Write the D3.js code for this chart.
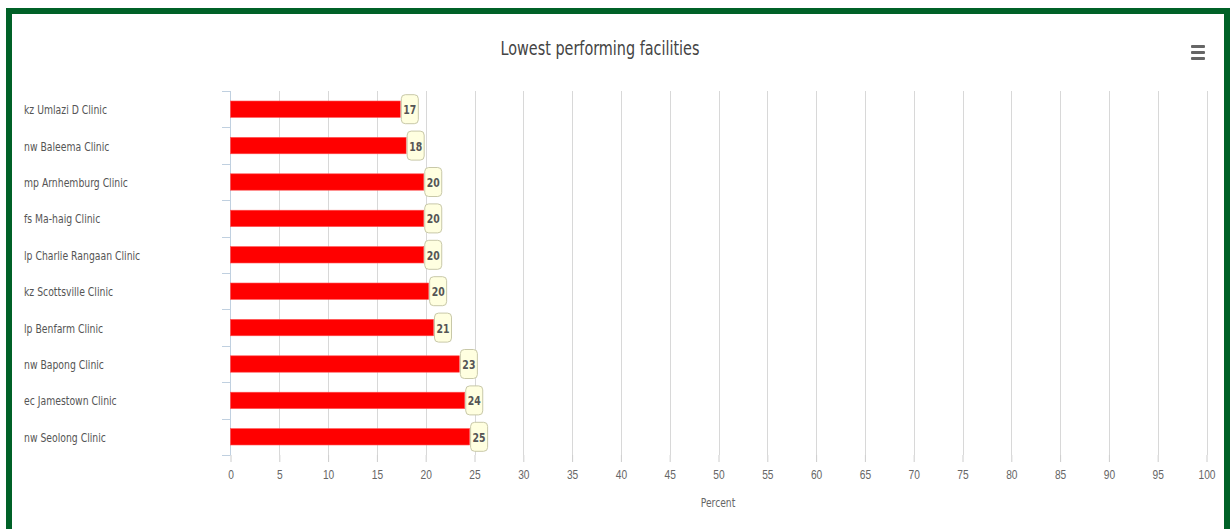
<!DOCTYPE html>
<html>
<head>
<meta charset="utf-8">
<script src="https://cdnjs.cloudflare.com/ajax/libs/d3/7.8.5/d3.min.js"></script>
<style>
  body { margin: 0; background: #fff; }
  svg { display: block; font-family: "DejaVu Sans Condensed", "Liberation Sans", sans-serif; }
</style>
</head>
<body>
<svg width="1230" height="529"></svg>
<script>
// facility names, top to bottom
var facilities = ["kz Umlazi D Clinic", "nw Baleema Clinic", "mp Arnhemburg Clinic", "fs Ma-haig Clinic",
  "lp Charlie Rangaan Clinic", "kz Scottsville Clinic", "lp Benfarm Clinic", "nw Bapong Clinic",
  "ec Jamestown Clinic", "nw Seolong Clinic"];
// percent values
var percents = [17.4, 18.0, 19.8, 19.8, 19.8, 20.3, 20.8, 23.45, 24.0, 24.5];
var xTicks = d3.range(0, 101, 5);

var svg = d3.select("svg");

// narrow text: condensed font squeezed a bit more to look like the original
function squeeze(sel, px, py, sx) {
  return sel.attr("transform", "translate(" + px + "," + py + ") scale(" + sx + ",1)");
}

// green frame
svg.append("rect").attr("x", 9).attr("y", 11).attr("width", 1218).attr("height", 530)
  .attr("fill", "none").attr("stroke", "#006127").attr("stroke-width", 6);

squeeze(svg.append("text"), 600, 55, 0.8).attr("text-anchor", "middle")
  .attr("font-size", 20).attr("fill", "#444").text("Lowest performing facilities");

// menu icon
[45, 51, 57].forEach(function (y) {
  svg.append("rect").attr("x", 1191).attr("y", y).attr("width", 14).attr("height", 3)
    .attr("rx", 1).attr("fill", "#666");
});

var x = d3.scaleLinear().domain([0, 100]).range([230.5, 1206.5]);
var y = d3.scaleBand().domain(facilities).range([91, 455]).paddingInner(0.55).paddingOuter(0.275);

// grid lines
svg.append("g").selectAll("line").data(xTicks.slice(1)).join("line")
  .attr("x1", d => Math.round(x(d)) + 0.5).attr("x2", d => Math.round(x(d)) + 0.5)
  .attr("y1", 91).attr("y2", 455).attr("stroke", "#d8d8d8");

// x axis
var xAxis = svg.append("g").attr("transform", "translate(0,455)")
  .call(d3.axisBottom(x).tickValues(xTicks).tickSize(7).tickPadding(9));
xAxis.select(".domain").remove();
xAxis.selectAll("line").attr("stroke", "#ccc");
xAxis.selectAll("text").attr("font-size", 12).attr("fill", "#666").attr("font-family", null)
  .attr("dy", null).attr("y", null)
  .attr("transform", "translate(0,24) scale(0.85,1)");

squeeze(svg.append("text"), 718, 507, 0.85).attr("text-anchor", "middle")
  .attr("font-size", 12).attr("fill", "#666").text("Percent");

// y axis line and band ticks
var bounds = facilities.map(f => y(f) - y.step() * y.paddingInner() / 2).concat([455]);
svg.append("line").attr("x1", 230.5).attr("x2", 230.5).attr("y1", 91).attr("y2", 455)
  .attr("stroke", "#c0d0e0");
svg.append("g").selectAll("line").data(bounds).join("line")
  .attr("x1", 222).attr("x2", 230.5)
  .attr("y1", d => Math.round(d) + 0.5).attr("y2", d => Math.round(d) + 0.5)
  .attr("stroke", "#c0d0e0");

svg.append("g").selectAll("text").data(facilities).join("text")
  .attr("transform", d => "translate(24," + (y(d) + y.bandwidth() / 2 + 5) + ") scale(0.86,1)")
  .attr("font-size", 12).attr("fill", "#555").text(d => d);

// bars
svg.append("g").selectAll("rect").data(percents).join("rect")
  .attr("x", x(0)).attr("y", (d, i) => y(facilities[i]))
  .attr("width", d => x(d) - x(0)).attr("height", y.bandwidth())
  .attr("fill", "#ff0000").attr("stroke", "#ff5050").attr("stroke-width", 0.6);

// data labels
var labels = svg.append("g").selectAll("g").data(percents).join("g")
  .attr("transform", (d, i) => "translate(" + (x(d) + 0.5) + "," + (y(facilities[i]) + y.bandwidth() / 2) + ")");
labels.append("rect").attr("x", 0.5).attr("y", -14.5).attr("width", 17).attr("height", 29)
  .attr("rx", 4).attr("fill", "#ffffe0").attr("stroke", "#c8c8a8");
labels.append("text").attr("transform", "translate(9,5) scale(0.8,1)").attr("text-anchor", "middle")
  .attr("font-size", 13).attr("font-weight", "bold").attr("fill", "#555")
  .text(d => Math.round(d));
</script>
</body>
</html>
